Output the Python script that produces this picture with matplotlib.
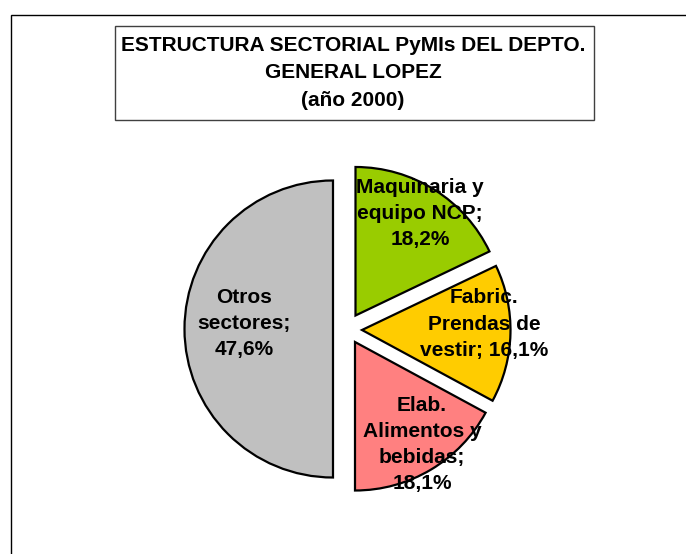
import matplotlib
matplotlib.use('Agg')
import matplotlib.pyplot as plt
from matplotlib.patches import Rectangle

# slice labels as printed on the chart
sectors = ['Maquinaria y\nequipo NCP;', 'Fabric.\nPrendas de\nvestir;',
           'Elab.\nAlimentos y\nbebidas;', 'Otros\nsectores;']
pct_labels = ['18,2%', '16,1%', '18,1%', '47,6%']
# slice sizes as drawn (share of the circle, %)
shares = [17.9, 15.0, 17.1, 50.0]
colors = ['#99CC00', '#FFCC00', '#FF8080', '#C0C0C0']

title = 'ESTRUCTURA SECTORIAL PyMIs DEL DEPTO.\nGENERAL LOPEZ\n(año 2000)'

W, H = 686, 554
plt.rcParams['font.family'] = ['Liberation Sans', 'DejaVu Sans']

fig = plt.figure(figsize=(W / 100, H / 100), dpi=100)
ax = fig.add_axes([0, 0, 1, 1])

cx, cy, r = 333, H - 329, 148.5
wedges, _ = ax.pie(shares, colors=colors, startangle=90, counterclock=False,
                   center=(cx, cy), radius=r,
                   wedgeprops=dict(edgecolor='black', linewidth=1.6))

# exploded slices (offsets in px)
offsets = [(22.5, 13.5), (29, -1), (22, -13), (0, 0)]
for w, (dx, dy) in zip(wedges, offsets):
    w.set_center((cx + dx, cy + dy))

# data labels
label_pos = [(420, 213.5), (484, 324), (422, 444.5), (244, 323.5)]
for name, pct, (x, y) in zip(sectors, pct_labels, label_pos):
    if name.endswith('vestir;'):
        txt = name + ' ' + pct
    else:
        txt = name + '\n' + pct
    ax.text(x, H - y, txt, ha='center', va='center', fontsize=15,
            fontweight='bold', linespacing=1.47, multialignment='center')

# title box
ax.add_patch(Rectangle((115, H - 120), 479, 94, facecolor='white',
                       edgecolor='#404040', linewidth=1))
ax.text(353, H - 73, title, ha='center', va='center', fontsize=15,
        fontweight='bold', linespacing=1.54, multialignment='center')

# chart area frame
ax.add_patch(Rectangle((10.5, -20), 700, H - 15 + 20, facecolor='none',
                       edgecolor='black', linewidth=1, clip_on=False))

ax.set_xlim(0, W)
ax.set_ylim(0, H)
ax.set_aspect('auto')
ax.axis('off')

fig.savefig('out.png', dpi=100, facecolor='white')
